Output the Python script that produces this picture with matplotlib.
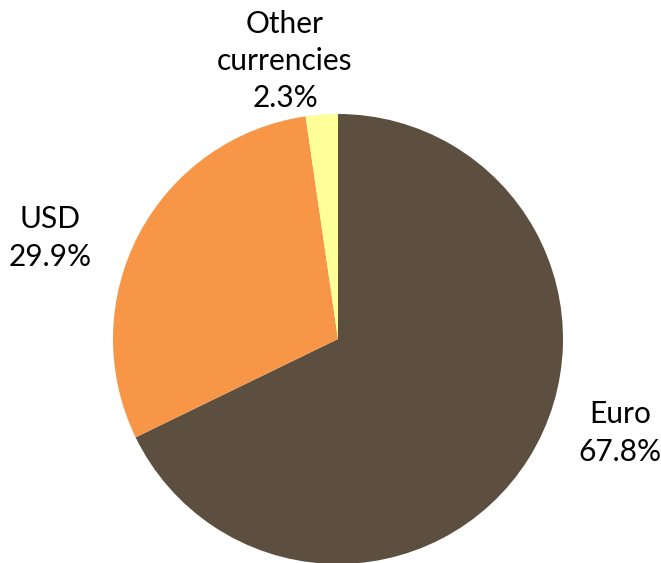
import matplotlib.pyplot as plt

categories = ['Euro', 'USD', 'Other\ncurrencies']
shares = [67.8, 29.9, 2.3]
colors = ['#5C4F3F', '#F79646', '#FFFF99']

plt.rcParams['font.family'] = ['Lato', 'DejaVu Sans']

fig = plt.figure(figsize=(6.61, 5.63), dpi=100)
ax = fig.add_axes([0, 0, 1, 1])
ax.set_xlim(0, 661)
ax.set_ylim(0, 563)
ax.set_aspect('equal')

ax.pie(shares, colors=colors, startangle=90, counterclock=False,
       center=(338, 224), radius=225, frame=True,
       wedgeprops={'linewidth': 0})
ax.axis('off')

# label positions (text only)
label_pos = [(620, 130), (50, 325), (285, 502)]
for name, val, (x, y) in zip(categories, shares, label_pos):
    ax.text(x, y, f'{name}\n{val}%', ha='center', va='center',
            fontsize=21.5, linespacing=1.4, color='black')

fig.savefig('out.png', dpi=100)
